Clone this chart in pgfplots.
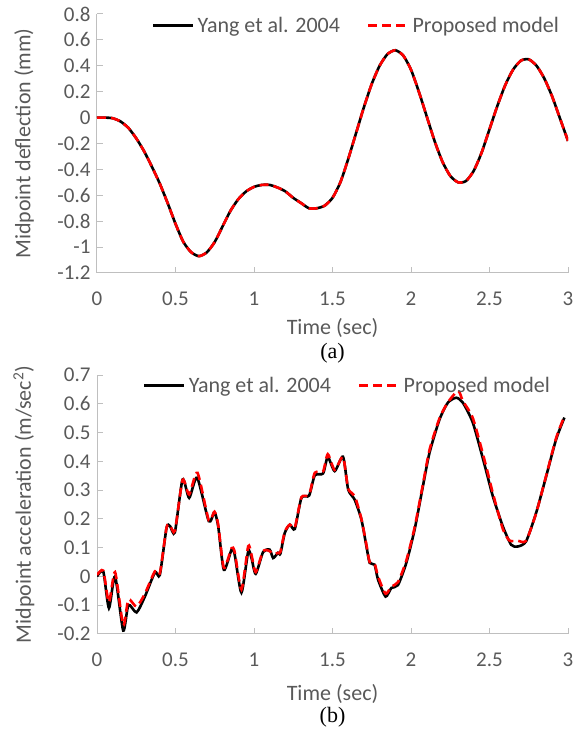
\documentclass[border=0pt]{standalone}
\usepackage{pgfplots}
\pgfplotsset{compat=1.18}
\usepackage{fontspec}
\setmainfont{Carlito}
\newfontfamily\serifa{Liberation Serif}
\definecolor{txt}{HTML}{595959}
\definecolor{axl}{HTML}{BFBFBF}
\definecolor{rd}{HTML}{FF0000}

\pgfplotsset{
  excel/.style={
    scale only axis, width=471pt, height=259pt,
    xmin=0, xmax=3, xtick={0,0.5,1,1.5,2,2.5,3},
    axis x line=bottom, axis y line=left,
    axis line style={draw=axl, line width=1pt, -},
    tick style={draw=axl, line width=1pt},
    major tick length=6pt, tick align=inside,
    tick label style={text=txt, font=\fontsize{21}{25}\selectfont},
    xticklabel style={yshift=-15pt, /pgf/number format/.cd, fixed, precision=1, assume math mode=true},
    yticklabel style={xshift=-3pt, /pgf/number format/.cd, fixed, precision=1, assume math mode=true},
    every axis y label/.style={at={(axis description cs:-0.155,0.5)}, rotate=90, anchor=center,
      text=txt, font=\fontsize{22}{26}\selectfont},
    legend columns=2,
    legend style={draw=none, fill=none, text=txt, font=\fontsize{22}{26}\selectfont,
      /tikz/every even column/.append style={column sep=24pt},
      nodes={inner sep=3pt}},
    legend image code/.code={\draw[##1] (0pt,0pt) -- (40pt,0pt);},
    clip mode=individual,
  },
  yang/.style={black, line width=2.6pt, smooth, tension=0.4},
  prop/.style={rd, line width=2.6pt, dash pattern=on 9pt off 5pt, smooth, tension=0.4},
}

\begin{document}
\begin{tikzpicture}
\path[use as bounding box] (0,0) rectangle (582pt,731pt);

% ---------------- (a) ----------------
\begin{axis}[excel,
  at={(97pt,458pt)}, anchor=south west,
  ymin=-1.2, ymax=0.8,
  ytick={-1.2,-1,-0.8,-0.6,-0.4,-0.2,0,0.2,0.4,0.6,0.8},
  xlabel={Time (sec)},
  every axis x label/.style={at={(axis description cs:0.5,-0.212)}, anchor=center,
    text=txt, font=\fontsize{22}{26}\selectfont},
  ylabel={Midpoint deflection (mm)},
  legend style={at={(axis description cs:0.552,0.955)}, anchor=center},
]
\addplot[yang] table {
t y
0 0
0.05 0
0.1 -0.005
0.15 -0.03
0.2 -0.08
0.25 -0.16
0.3 -0.26
0.35 -0.38
0.4 -0.51
0.45 -0.66
0.5 -0.82
0.55 -0.96
0.6 -1.04
0.65 -1.07
0.7 -1.04
0.75 -0.96
0.8 -0.84
0.85 -0.72
0.9 -0.63
0.95 -0.57
1.0 -0.535
1.05 -0.52
1.1 -0.52
1.15 -0.54
1.2 -0.57
1.25 -0.62
1.3 -0.66
1.35 -0.70
1.4 -0.70
1.45 -0.68
1.5 -0.62
1.55 -0.50
1.6 -0.32
1.65 -0.12
1.7 0.08
1.75 0.26
1.8 0.40
1.85 0.49
1.9 0.52
1.95 0.48
2.0 0.37
2.05 0.20
2.1 0.01
2.15 -0.18
2.2 -0.34
2.25 -0.45
2.3 -0.50
2.35 -0.49
2.4 -0.41
2.45 -0.27
2.5 -0.09
2.55 0.09
2.6 0.25
2.65 0.37
2.7 0.44
2.75 0.45
2.8 0.40
2.85 0.30
2.9 0.16
2.95 -0.01
3.0 -0.18
};
\addlegendentry{Yang et al. 2004}
\addplot[prop] table {
t y
0 0
0.05 0
0.1 -0.005
0.15 -0.03
0.2 -0.08
0.25 -0.16
0.3 -0.26
0.35 -0.38
0.4 -0.51
0.45 -0.66
0.5 -0.82
0.55 -0.96
0.6 -1.04
0.65 -1.07
0.7 -1.04
0.75 -0.96
0.8 -0.84
0.85 -0.72
0.9 -0.63
0.95 -0.57
1.0 -0.535
1.05 -0.52
1.1 -0.52
1.15 -0.54
1.2 -0.57
1.25 -0.62
1.3 -0.66
1.35 -0.70
1.4 -0.70
1.45 -0.68
1.5 -0.62
1.55 -0.50
1.6 -0.32
1.65 -0.12
1.7 0.08
1.75 0.26
1.8 0.40
1.85 0.49
1.9 0.52
1.95 0.48
2.0 0.37
2.05 0.20
2.1 0.01
2.15 -0.18
2.2 -0.34
2.25 -0.45
2.3 -0.50
2.35 -0.49
2.4 -0.41
2.45 -0.27
2.5 -0.09
2.55 0.09
2.6 0.25
2.65 0.37
2.7 0.44
2.75 0.45
2.8 0.40
2.85 0.30
2.9 0.16
2.95 -0.01
3.0 -0.18
};
\addlegendentry{Proposed model}
\node[font=\serifa\fontsize{22}{26}\selectfont, text=black] at (axis description cs:0.5,-0.309) {(a)};
\end{axis}

% ---------------- (b) ----------------
\begin{axis}[excel,
  at={(97pt,97pt)}, anchor=south west,
  ymin=-0.2, ymax=0.7,
  ytick={-0.2,-0.1,0,0.1,0.2,0.3,0.4,0.5,0.6,0.7},
  xlabel={Time (sec)},
  every axis x label/.style={at={(axis description cs:0.5,-0.232)}, anchor=center,
    text=txt, font=\fontsize{22}{26}\selectfont},
  ylabel={Midpoint acceleration (m/sec\textsuperscript{2})},
  legend style={at={(axis description cs:0.533,0.96)}, anchor=center},
]
\addplot[yang] table {
t y
0 0
0.04 0.017
0.076 -0.11
0.115 0.0
0.167 -0.188
0.2 -0.099
0.252 -0.125
0.305 -0.07
0.369 0.014
0.40 0.005
0.443 0.169
0.465 0.175
0.496 0.153
0.545 0.337
0.587 0.273
0.638 0.343
0.712 0.192
0.748 0.223
0.772 0.174
0.808 0.023
0.857 0.093
0.877 0.076
0.92 -0.056
0.963 0.087
0.984 0.064
1.011 0.009
1.058 0.085
1.1 0.093
1.122 0.064
1.153 0.082
1.168 0.079
1.196 0.151
1.228 0.18
1.26 0.165
1.302 0.273
1.351 0.281
1.387 0.351
1.44 0.358
1.47 0.415
1.514 0.366
1.567 0.416
1.6 0.302
1.641 0.267
1.684 0.198
1.716 0.105
1.737 0.047
1.768 0.041
1.79 -0.011
1.838 -0.07
1.875 -0.04
1.917 -0.03
1.97 0.047
2.023 0.163
2.076 0.314
2.118 0.43
2.182 0.546
2.235 0.604
2.288 0.621
2.33 0.604
2.394 0.534
2.468 0.389
2.521 0.279
2.585 0.174
2.638 0.11
2.68 0.104
2.733 0.122
2.797 0.221
2.861 0.348
2.924 0.476
2.977 0.552
};
\addlegendentry{Yang et al. 2004}
\addplot[prop] table {
t y
0 0.005
0.04 0.02
0.076 -0.09
0.115 0.015
0.167 -0.17
0.2 -0.08
0.252 -0.105
0.305 -0.06
0.369 0.018
0.40 0.01
0.443 0.17
0.465 0.178
0.496 0.158
0.545 0.335
0.587 0.285
0.64 0.36
0.712 0.195
0.748 0.225
0.772 0.18
0.808 0.03
0.857 0.098
0.877 0.085
0.92 -0.045
0.963 0.105
0.984 0.075
1.011 0.015
1.058 0.088
1.1 0.088
1.122 0.078
1.153 0.082
1.168 0.085
1.196 0.155
1.228 0.18
1.26 0.17
1.302 0.275
1.351 0.283
1.387 0.36
1.44 0.365
1.47 0.425
1.514 0.37
1.567 0.415
1.6 0.305
1.641 0.28
1.684 0.2
1.716 0.11
1.737 0.05
1.768 0.045
1.79 0.0
1.838 -0.06
1.875 -0.035
1.917 -0.02
1.97 0.055
2.023 0.17
2.076 0.32
2.118 0.44
2.182 0.55
2.235 0.605
2.3 0.645
2.33 0.61
2.394 0.55
2.468 0.405
2.521 0.29
2.585 0.165
2.627 0.125
2.68 0.124
2.733 0.124
2.797 0.22
2.861 0.35
2.924 0.48
2.977 0.557
};
\addlegendentry{Proposed model}
\node[font=\serifa\fontsize{22}{26}\selectfont, text=black] at (axis description cs:0.5,-0.32) {(b)};
\end{axis}
\end{tikzpicture}
\end{document}
